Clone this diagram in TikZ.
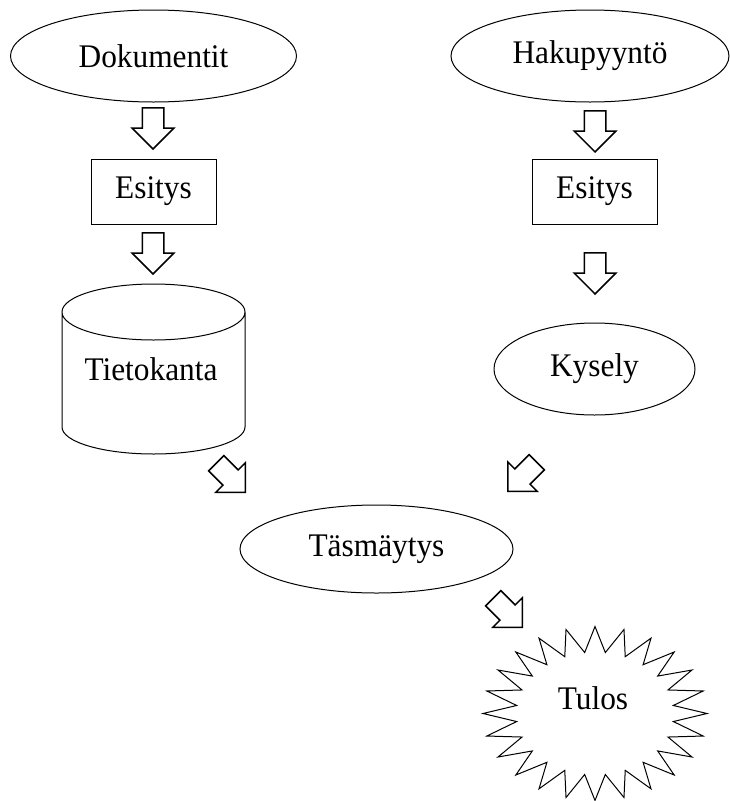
\documentclass[tikz,border=0pt]{standalone}
\usepackage{fontspec}
\setmainfont{Liberation Serif}[FakeStretch=0.95]
\usetikzlibrary{shapes.geometric,shapes.arrows,calc}

\begin{document}
\begin{tikzpicture}[x=1pt,y=-1pt,
  every node/.style={font=\fontsize{33}{40}\selectfont},
  oval/.style={ellipse,draw,line width=1pt,inner sep=0pt},
  blk/.style={rectangle,draw,line width=1pt,minimum width=125pt,minimum height=65pt},
  barrow/.style={single arrow,draw,line width=1.5pt,inner sep=0pt,inner ysep=10pt,
    single arrow head extend=10pt,minimum height=41pt}]
  \useasboundingbox (0,0) rectangle (729,801);
  % left column
  \node[oval,minimum width=286pt,minimum height=92pt] (dok) at (153.5,56) {Dokumentit};
  \node[barrow,rotate=-90,anchor=tip] (dl1) at (153,150) {};
  \node[blk] (esl) at (153.5,191.5) {Esitys};
  \node[barrow,rotate=-90,anchor=tip] (dl2) at (153,275) {};
  \node (tk) at (151,369) {Tietokanta};
  \draw[line width=1pt] (62,312) -- (62,427) arc[start angle=180,end angle=360,x radius=91.5pt,y radius=27pt]
    -- (245,312) arc[start angle=0,end angle=180,x radius=91.5pt,y radius=28pt]
    arc[start angle=180,end angle=360,x radius=91.5pt,y radius=28pt];
  % right column
  \node[oval,minimum width=278pt,minimum height=92pt] (hak) at (590,56) {Hakupyyntö};
  \node[barrow,rotate=-90,anchor=tip] (dr1) at (595,153) {};
  \node[blk] (esr) at (594.5,191.5) {Esitys};
  \node[barrow,rotate=-90,anchor=tip] (dr2) at (595,295) {};
  \node[oval,minimum width=201pt,minimum height=92pt] (kys) at (594.5,369) {Kysely};
  % matching
  \node[barrow,rotate=-45,anchor=tip] (dm1) at (246,493) {};
  \node[barrow,rotate=-135,anchor=tip] (dm2) at (507,492) {};
  \node[oval,minimum width=273pt,minimum height=88pt] (tas) at (376.5,549) {Täsmäytys};
  \node[barrow,rotate=-45,anchor=tip] (dm3) at (523,628) {};
  % result star
  \coordinate (tc) at (595,713.5);
  \draw[line width=1pt] ($(tc)+(90:112pt and 87pt)$)
    \foreach \k [evaluate=\k as \rx using {112-33*mod(\k,2)},
                 evaluate=\k as \ry using {87-25.5*mod(\k,2)}] in {1,...,47}
      { -- ($(tc)+({90+7.5*\k}:\rx pt and \ry pt)$) } -- cycle;
  \node (tulos) at (593,698) {Tulos};
\end{tikzpicture}
\end{document}
